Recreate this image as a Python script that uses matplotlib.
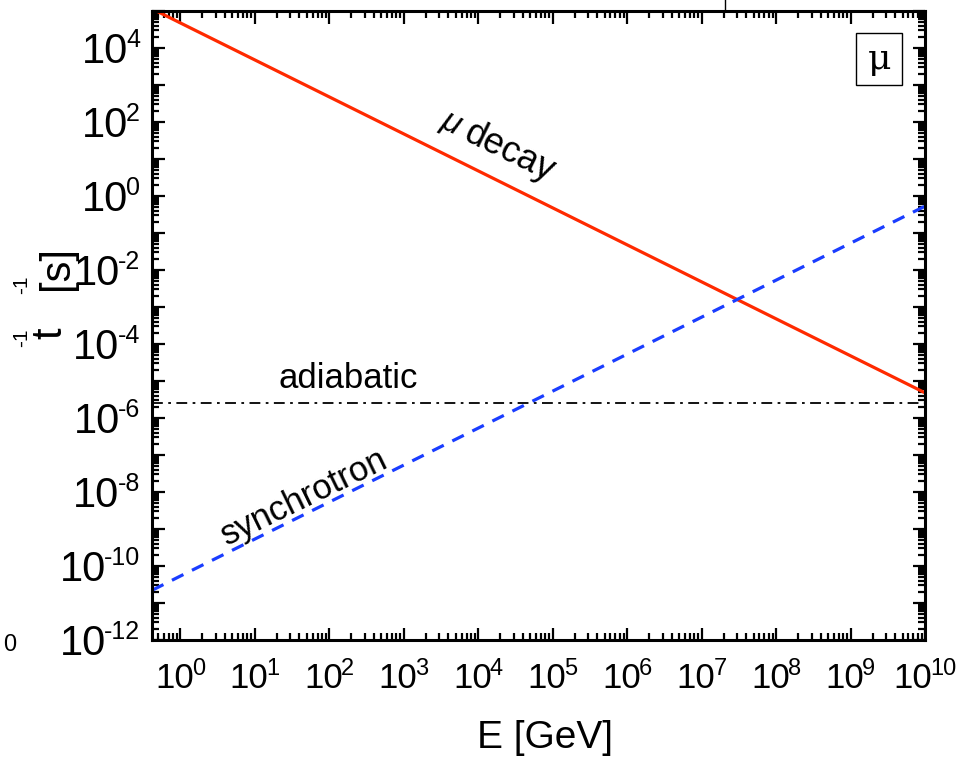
import numpy as np
import matplotlib
matplotlib.use('Agg')
import matplotlib.pyplot as plt
from matplotlib.ticker import LogLocator, NullFormatter
from matplotlib.transforms import offset_copy
from matplotlib.lines import Line2D
from matplotlib.patches import Rectangle

plt.rcParams['font.family'] = ['Liberation Sans', 'DejaVu Sans']
plt.rcParams['mathtext.fontset'] = 'custom'
plt.rcParams['mathtext.rm'] = 'Liberation Sans'
plt.rcParams['mathtext.it'] = 'Liberation Sans:italic'

# energies [GeV] and rates [1/s]
energy = [0.42, 1e0, 1e1, 1e2, 1e3, 1e4, 1e5, 1e6, 1e7, 1e8, 1e9, 1e10]
decay_rate = [1.15e5, 4.8e4, 4.8e3, 4.8e2, 4.8e1, 4.8e0, 4.8e-1, 4.8e-2, 4.8e-3, 4.8e-4, 4.8e-5, 4.8e-6]
synch_rate = [2.2e-11, 5.3e-11, 5.3e-10, 5.3e-9, 5.3e-8, 5.3e-7, 5.3e-6, 5.3e-5, 5.3e-4, 5.3e-3, 5.3e-2, 5.3e-1]
adiab_rate = [2.5e-6, 2.5e-6, 2.5e-6, 2.5e-6, 2.5e-6, 2.5e-6, 2.5e-6, 2.5e-6, 2.5e-6, 2.5e-6, 2.5e-6, 2.5e-6]

# labelled decades on each axis
x_label_exp = [0, 1, 2, 3, 4, 5, 6, 7, 8, 9, 10]
y_label_exp = [4, 2, 0, -2, -4, -6, -8, -10, -12]

fig = plt.figure(figsize=(9.65, 7.6), dpi=100)
ax = fig.add_axes([152 / 965, 1 - 640 / 760, (925 - 152) / 965, (640 - 11) / 760])

ax.plot(energy, decay_rate, color='#ff2a00', lw=2.3, solid_capstyle='butt')
ax.plot(energy, synch_rate, color='#1a3dff', lw=2.3, dashes=(4, 3))
ax.plot(energy, adiab_rate, color='black', lw=1.3, dashes=(6, 3, 1.5, 3))

ax.set_xscale('log')
ax.set_yscale('log')
ax.set_xlim(0.42, 1e10)
ax.set_ylim(1e-12, 1e5)

ax.xaxis.set_major_locator(LogLocator(base=10, numticks=30))
ax.xaxis.set_minor_locator(LogLocator(base=10, subs=np.arange(2, 10), numticks=30))
ax.yaxis.set_major_locator(LogLocator(base=10, numticks=40))
ax.yaxis.set_minor_locator(LogLocator(base=10, subs=np.arange(2, 10), numticks=40))
for axis in (ax.xaxis, ax.yaxis):
    axis.set_major_formatter(NullFormatter())
    axis.set_minor_formatter(NullFormatter())

ax.tick_params(which='both', direction='in', top=True, right=True, width=1.6)
ax.tick_params(which='major', length=9)
ax.tick_params(which='minor', length=5)
for s in ax.spines.values():
    s.set_linewidth(2.2)

# tick labels: "10" plus a small raised exponent, like the original
renderer = fig.canvas.get_renderer()


def text_width(s, size):
    t = fig.text(0, 0, s, fontsize=size)
    w = t.get_window_extent(renderer).width
    t.remove()
    return w


ytr = ax.get_yaxis_transform()
for e in y_label_exp:
    we = text_width(str(e), 18)
    ax.text(0, 10.0 ** e, str(e), fontsize=18, ha='right', va='baseline',
            transform=offset_copy(ytr, fig=fig, x=-12, y=1, units='dots'))
    ax.text(0, 10.0 ** e, '10', fontsize=30, ha='right', va='baseline',
            transform=offset_copy(ytr, fig=fig, x=-12 - we + 2, y=-15, units='dots'))

xtr = ax.get_xaxis_transform()
for e in x_label_exp:
    wm = text_width('10', 25)
    we = text_width(str(e), 17)
    left = -(wm + we - 2) / 2
    ax.text(10.0 ** e, 0, '10', fontsize=25, ha='left', va='baseline',
            transform=offset_copy(xtr, fig=fig, x=left, y=-48, units='dots'))
    ax.text(10.0 ** e, 0, str(e), fontsize=17, ha='left', va='baseline',
            transform=offset_copy(xtr, fig=fig, x=left + wm - 2, y=-35, units='dots'))

fig.text(545 / 965, 1 - 748 / 760, 'E [GeV]', fontsize=28, ha='center', va='baseline')

# y label, drawn in pieces as in the original
fig.text(50 / 965, 1 - 333 / 760, 't', rotation=90, fontsize=30, ha='center', va='center')
fig.text(22 / 965, 1 - 338 / 760, '-1', rotation=90, fontsize=15, ha='center', va='center')
fig.text(57 / 965, 1 - 268 / 760, '[s]', rotation=90, fontsize=30, ha='center', va='center')
fig.text(22 / 965, 1 - 285 / 760, '-1', rotation=90, fontsize=15, ha='center', va='center')

# curve labels
ax.text(2.6e4, 15.5, 'decay', fontsize=26, rotation=-26, ha='center', va='center')
ax.text(4.3e3, 88, r'$\mu$', fontsize=24, rotation=-26, ha='center', va='center')
ax.text(180, 1.2e-5, 'adiabatic', fontsize=25, ha='center', va='center')
ax.text(46, 7.2e-9, 'synchrotron', fontsize=25, rotation=26, ha='center', va='center')

# particle box
ax.add_patch(Rectangle((0.9107, 0.8824), 0.0596, 0.0826, transform=ax.transAxes,
                       fc='white', ec='black', lw=1.0, zorder=5))
ax.text(0.9405, 0.9237, 'μ', transform=ax.transAxes, fontsize=26, family='DejaVu Serif',
        ha='center', va='center', zorder=6)

# leftovers from the neighbouring panel
fig.text(10 / 965, 1 - 645 / 760, '0', fontsize=17, ha='center', va='center')
fig.add_artist(Line2D([725 / 965, 725 / 965], [1.0, 1 - 11 / 760], color='black', lw=1.0))

fig.savefig('out.png', dpi=100)
